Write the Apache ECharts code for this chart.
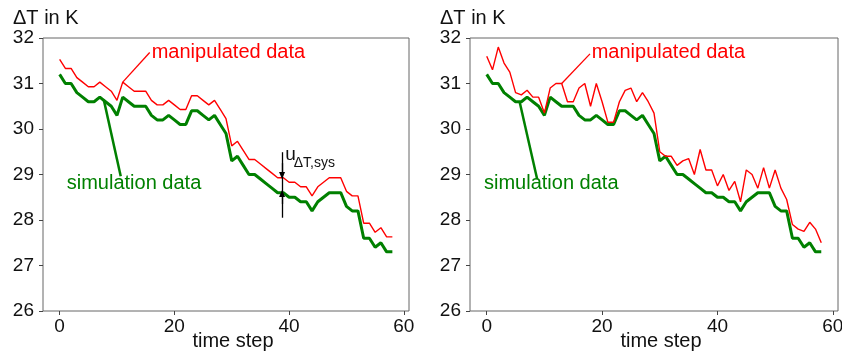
<!DOCTYPE html>
<html>
<head>
<meta charset="utf-8">
<script src="https://cdn.jsdelivr.net/npm/echarts@6/dist/echarts.min.js"></script>
<style>
  html, body { margin: 0; padding: 0; background: #fff; }
  #chart { width: 842px; height: 352px; }
</style>
</head>
<body>
<div id="chart"></div>
<script>
// time steps 0..58
const timeSteps = Array.from({ length: 59 }, (_, i) => i);
const xTickValues = [0, 20, 40, 60];

const simulationData = [31.2, 31.0, 31.0, 30.8, 30.7, 30.6, 30.6, 30.7, 30.6, 30.5,
  30.3, 30.7, 30.6, 30.5, 30.5, 30.5, 30.3, 30.2, 30.2, 30.3,
  30.2, 30.1, 30.1, 30.4, 30.4, 30.3, 30.2, 30.3, 30.1, 29.9,
  29.3, 29.4, 29.2, 29.0, 29.0, 28.9, 28.8, 28.7, 28.6, 28.6,
  28.5, 28.5, 28.4, 28.4, 28.2, 28.4, 28.5, 28.6, 28.6, 28.6,
  28.3, 28.2, 28.2, 27.6, 27.6, 27.4, 27.5, 27.3, 27.3];

// left: constant systematic offset
const manipulatedLeft = [31.53, 31.33, 31.33, 31.13, 31.03, 30.93, 30.93, 31.03, 30.93, 30.83,
  30.63, 31.03, 30.93, 30.83, 30.83, 30.83, 30.63, 30.53, 30.53, 30.63,
  30.53, 30.43, 30.43, 30.73, 30.73, 30.63, 30.53, 30.63, 30.43, 30.23,
  29.63, 29.73, 29.53, 29.33, 29.33, 29.23, 29.13, 29.03, 28.93, 28.93,
  28.83, 28.83, 28.73, 28.73, 28.53, 28.73, 28.83, 28.93, 28.93, 28.93,
  28.63, 28.53, 28.53, 27.93, 27.93, 27.73, 27.83, 27.63, 27.63];

// right: noisy manipulation
const manipulatedRight = [31.6, 31.3, 31.8, 31.45, 31.25, 30.8, 30.75, 30.85, 30.7, 30.7,
  30.35, 30.9, 31.0, 31.0, 30.6, 30.6, 30.9, 31.0, 30.5, 31.0,
  30.6, 30.15, 30.15, 30.6, 30.85, 30.9, 30.6, 30.8, 30.6, 30.35,
  29.5, 29.4, 29.4, 29.2, 29.3, 29.35, 29.0, 29.55, 29.1, 29.1,
  28.75, 29.0, 28.65, 28.85, 28.4, 29.1, 29.0, 28.7, 29.15, 28.7,
  29.1, 28.7, 28.45, 27.9, 27.8, 27.75, 27.95, 27.8, 27.5];

const font = 'Liberation Sans, Arial, sans-serif';
const RED = '#ff0000';
const GREEN = '#008000';

const pairs = (vals) => vals.map((v, i) => [timeSteps[i], v]);

function makeXAxis(gridIndex) {
  return {
    type: 'value', gridIndex: gridIndex, min: -2.9, max: 60.9,
    axisLine: { show: false, onZero: false },
    splitLine: { show: false },
    axisTick: { show: true, customValues: xTickValues, length: 4, lineStyle: { color: '#444' } },
    axisLabel: { customValues: xTickValues, fontSize: 19, color: '#111', margin: 6, fontFamily: font },
    name: 'time step', nameLocation: 'middle', nameGap: 20, nameMoveOverlap: false,
    nameTextStyle: { fontSize: 20, color: '#111', fontFamily: font, padding: [0, 0, 0, 14] }
  };
}

function makeYAxis(gridIndex) {
  return {
    type: 'value', gridIndex: gridIndex, min: 26, max: 32, interval: 1,
    axisLine: { show: false, onZero: false },
    splitLine: { show: false },
    axisTick: { show: true, length: 4, lineStyle: { color: '#444' } },
    axisLabel: { fontSize: 19, color: '#111', margin: 9, fontFamily: font }
  };
}

function textMark(txt, coord, color, size) {
  return {
    coord: coord, value: txt, symbol: 'rect', symbolSize: 1,
    itemStyle: { color: 'rgba(0,0,0,0)' },
    label: {
      show: true, position: 'inside', align: 'left', verticalAlign: 'middle',
      formatter: txt, color: color, fontSize: size, fontFamily: font
    }
  };
}

function leader(from, to, color, width) {
  return [
    { coord: from, symbol: 'none', lineStyle: { color: color, width: width, type: 'solid' } },
    { coord: to, symbol: 'none' }
  ];
}

const uX = 38.77;

const chart = echarts.init(document.getElementById('chart'));
chart.setOption({
  animation: false,
  title: [
    { text: 'ΔT in K', left: 13, top: 8, padding: 0,
      textStyle: { fontSize: 20, fontWeight: 'normal', color: '#111', fontFamily: font } },
    { text: 'ΔT in K', left: 440, top: 8, padding: 0,
      textStyle: { fontSize: 20, fontWeight: 'normal', color: '#111', fontFamily: font } }
  ],
  grid: [
    { left: 43, right: 433, top: 38, bottom: 41, show: true, borderColor: '#666', borderWidth: 1,
      outerBoundsMode: 'none', containLabel: false },
    { left: 470, right: 4, top: 38, bottom: 41, show: true, borderColor: '#666', borderWidth: 1,
      outerBoundsMode: 'none', containLabel: false }
  ],
  xAxis: [makeXAxis(0), makeXAxis(1)],
  yAxis: [makeYAxis(0), makeYAxis(1)],
  series: [
    {
      name: 'simulation data', type: 'line', xAxisIndex: 0, yAxisIndex: 0,
      data: pairs(simulationData), showSymbol: false, symbol: 'none', z: 2,
      lineStyle: { color: GREEN, width: 3 },
      markLine: {
        silent: true, animation: false, label: { show: false },
        data: [
          leader([7.7, 30.64], [10.65, 28.96], GREEN, 2.5),
          leader([uX, 29.49], [uX, 28.05], '#000', 1.3),
          [
            { coord: [uX, 29.25], symbol: 'none', lineStyle: { color: '#000', width: 1.3, type: 'solid' } },
            { coord: [uX, 28.98], symbol: 'triangle', symbolSize: [6, 7] }
          ],
          [
            { coord: [uX, 28.35], symbol: 'none', lineStyle: { color: '#000', width: 1.3, type: 'solid' } },
            { coord: [uX, 28.58], symbol: 'triangle', symbolSize: [6, 7] }
          ]
        ]
      },
      markPoint: {
        silent: true, animation: false,
        data: [
          textMark('simulation data', [1.24, 28.81], GREEN, 20),
          textMark('u', [39.35, 29.44], '#111', 19),
          textMark('ΔT,sys', [40.8, 29.25], '#111', 14)
        ]
      }
    },
    {
      name: 'manipulated data', type: 'line', xAxisIndex: 0, yAxisIndex: 0,
      data: pairs(manipulatedLeft), showSymbol: false, symbol: 'none', z: 3,
      lineStyle: { color: RED, width: 1.4 },
      markLine: {
        silent: true, animation: false, label: { show: false },
        data: [leader([15.7, 31.68], [11, 31.03], RED, 1.3)]
      },
      markPoint: {
        silent: true, animation: false,
        data: [textMark('manipulated data', [16.05, 31.69], RED, 20)]
      }
    },
    {
      name: 'simulation data', type: 'line', xAxisIndex: 1, yAxisIndex: 1,
      data: pairs(simulationData), showSymbol: false, symbol: 'none', z: 2,
      lineStyle: { color: GREEN, width: 3 },
      markLine: {
        silent: true, animation: false, label: { show: false },
        data: [leader([5.7, 30.6], [8.74, 28.9], GREEN, 2.5)]
      },
      markPoint: {
        silent: true, animation: false,
        data: [textMark('simulation data', [-0.47, 28.81], GREEN, 20)]
      }
    },
    {
      name: 'manipulated data', type: 'line', xAxisIndex: 1, yAxisIndex: 1,
      data: pairs(manipulatedRight), showSymbol: false, symbol: 'none', z: 3,
      lineStyle: { color: RED, width: 1.4 },
      markLine: {
        silent: true, animation: false, label: { show: false },
        data: [leader([17.9, 31.65], [13, 31.0], RED, 1.3)]
      },
      markPoint: {
        silent: true, animation: false,
        data: [textMark('manipulated data', [18.2, 31.69], RED, 20)]
      }
    }
  ]
});
</script>
</body>
</html>
